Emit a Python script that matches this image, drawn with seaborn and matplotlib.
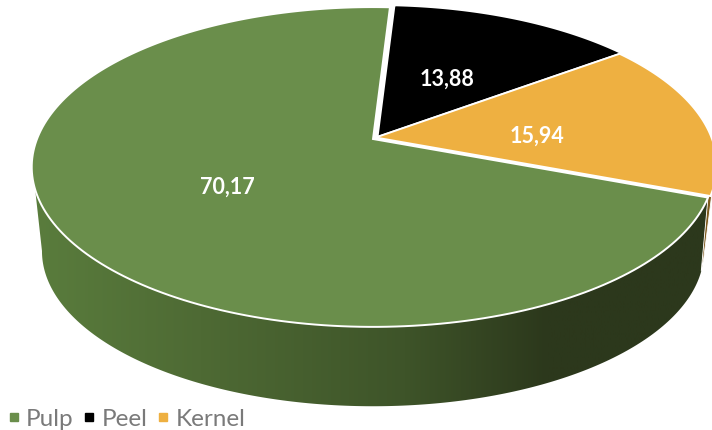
import numpy as np
import seaborn as sns
import matplotlib
matplotlib.use("Agg")
import matplotlib.pyplot as plt
from matplotlib.colors import LinearSegmentedColormap
from matplotlib.lines import Line2D
from matplotlib.patches import Polygon

# Mass share of each fruit fraction, in percent
categories = ["Pulp", "Peel", "Kernel"]
shares = [70.17, 13.88, 15.94]
value_labels = ["70,17", "13,88", "15,94"]

sns.set_theme(style="white", rc={"font.family": ["Lato", "DejaVu Sans"]})
palette = sns.color_palette(["#6a8e4b", "#000000", "#eeb041"])

# Clockwise start of the first slice after Pulp, degrees from 12 o'clock
START_DEG = 3.4
# Perspective of the tilted disc
TILT = 0.175
TOP_RX, TOP_RY = 336.0, 155.0
BASE_SCALE = 0.97
# Small slice explosions, in pixels
OFFSETS = {"Pulp": (373, 140), "Peel": (377.5, 138), "Kernel": (375.5, 138.5)}
BASE_APEX = (373, 225)
# Fine placement of the value labels, in pixels
LABEL_NUDGE = {"Pulp": (2, 3), "Peel": (-5, 5), "Kernel": (-3, 8)}


def project(deg, radius=1.0, apex=(373, 140), scale=1.0):
    """Map a clock angle and radius on the disc to canvas pixels."""
    phi = np.radians(deg)
    u, v = radius * np.sin(phi), radius * np.cos(phi)
    d = 1 + TILT * v
    return apex[0] + scale * TOP_RX * u / d, apex[1] - scale * TOP_RY * v / d


def arc(a, b, apex, scale=1.0):
    x, y = project(np.linspace(a, b, 200), 1.0, apex, scale)
    return np.column_stack([x, y])


fig = plt.figure(figsize=(7.12, 4.31), dpi=100)
ax = fig.add_axes([0, 0, 1, 1])
ax.set_axis_off()

# Slice boundaries: Peel, Kernel, then Pulp wraps back to the start
peel_end = START_DEG + shares[1] * 3.6
kern_end = peel_end + shares[2] * 3.6
spans = {"Peel": (START_DEG, peel_end), "Kernel": (peel_end, kern_end),
         "Pulp": (kern_end, START_DEG + 360)}
colors = dict(zip(categories, palette))

# Side wall of the large slice, shaded left to right
rim_cmap = LinearSegmentedColormap.from_list(
    "rim", [(0, "#5a7d3d"), (0.25, "#4e6a34"), (0.55, "#3e5429"),
            (0.76, "#2c381c"), (1, "#2c381c")])
rim_pts = np.vstack([arc(kern_end, 252, OFFSETS["Pulp"]),
                     arc(260, kern_end - 3.4, BASE_APEX, BASE_SCALE)])
rim = Polygon(rim_pts, closed=True, fc="none", ec="none")
ax.add_patch(rim)
shade = ax.imshow(np.linspace(0, 1, 256)[None, :], cmap=rim_cmap, aspect="auto",
                  extent=(30, 712, 431, 0), zorder=1)
shade.set_clip_path(rim)

# Thin visible side wall of the Kernel slice
k_top = np.array([project(kern_end, 1, OFFSETS["Pulp"]),
                  project(kern_end - 1.5, 1, OFFSETS["Kernel"])])
k_low = np.array([project(kern_end - 7.5, 1, BASE_APEX, BASE_SCALE),
                  project(kern_end - 3.4, 1, BASE_APEX, BASE_SCALE)])
ax.add_patch(Polygon(np.vstack([k_top, k_low]), closed=True, fc="#7d5a1e",
                     ec="white", lw=0.6, zorder=1.5))

# Top faces of the slices
for name, (a, b) in spans.items():
    apex = OFFSETS[name]
    pts = np.vstack([[apex], arc(a, b, apex)])
    ax.add_patch(Polygon(pts, closed=True, fc=colors[name], ec="white",
                         lw=1.4, joinstyle="miter", zorder=2))

# Value labels at half radius of each slice
for name, text in zip(categories, value_labels):
    a, b = spans[name]
    x, y = project((a + b) / 2, 0.5, OFFSETS[name])
    nx, ny = LABEL_NUDGE[name]
    ax.text(x + nx, y + ny, text, color="white", fontsize=15.5, fontweight="bold",
            ha="center", va="center", zorder=3)

handles = [Line2D([], [], ls="none", marker="s", ms=5.5, color=colors[c], label=c)
           for c in categories]
ax.legend(handles=handles, loc="lower left", bbox_to_anchor=(0.009, 0.002), ncol=3,
          frameon=False, fontsize=17.5, labelcolor="#7a7a7a", handlelength=0.6,
          handletextpad=0.2, columnspacing=0.35, borderpad=0, borderaxespad=0)

ax.set_xlim(0, 712)
ax.set_ylim(431, 0)
fig.savefig("out.png", dpi=100, facecolor="white")
